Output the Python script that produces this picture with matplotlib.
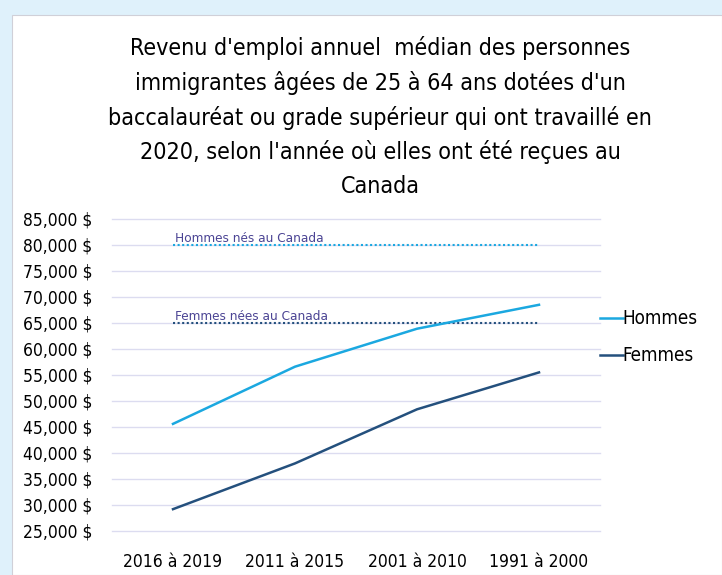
import matplotlib
matplotlib.use("Agg")
import matplotlib.pyplot as plt
from matplotlib.patches import Rectangle
from matplotlib.ticker import FuncFormatter

plt.rcParams['font.family'] = ['DejaVu Sans']
plt.rcParams['font.stretch'] = 'condensed'

categories = ["2016 à 2019", "2011 à 2015", "2001 à 2010", "1991 à 2000"]
hommes = [45600, 56600, 63900, 68500]
femmes = [29200, 38000, 48400, 55500]
ref_hommes = 80000
ref_femmes = 65000
title = ("Revenu d'emploi annuel  médian des personnes\n"
         "immigrantes âgées de 25 à 64 ans dotées d'un\n"
         "baccalauréat ou grade supérieur qui ont travaillé en\n"
         "2020, selon l'année où elles ont été reçues au\n"
         "Canada")
yticks = list(range(25000, 85001, 5000))

W, H = 722, 575
fig = plt.figure(figsize=(W / 100, H / 100), dpi=100)
fig.patch.set_facecolor("#dff1fb")
fig.patches.append(Rectangle((12 / W, 0), 1 - 12 / W, 1 - 15 / H, transform=fig.transFigure,
                             facecolor="white", edgecolor="#d0d0d8", linewidth=0.8, zorder=-5))

ax = fig.add_axes([112 / W, 1 - 531 / H, 488 / W, 312 / H])
ax.set_facecolor("none")
x = list(range(len(categories)))

c_h = "#1ba8e0"
c_f = "#24507d"
ax.plot(x, hommes, color=c_h, lw=1.8, label="Hommes", zorder=3)
ax.plot(x, femmes, color=c_f, lw=1.8, label="Femmes", zorder=3)

ax.plot([x[0], x[-1]], [ref_hommes, ref_hommes], color="#1ba8e0", lw=1.5, ls=(0, (1, 1.2)), zorder=2)
ax.plot([x[0], x[-1]], [ref_femmes, ref_femmes], color="#24507d", lw=1.5, ls=(0, (1, 1.2)), zorder=2)
ax.annotate("Hommes nés au Canada", (x[0], ref_hommes), xytext=(1.5, 2), textcoords="offset points",
            fontsize=9.7, color="#4b4494", va="baseline", ha="left")
ax.annotate("Femmes nées au Canada", (x[0], ref_femmes), xytext=(1.5, 2), textcoords="offset points",
            fontsize=9.7, color="#4b4494", va="baseline", ha="left")

ax.set_xlim(-0.5, len(categories) - 0.5)
ax.set_ylim(25000, 85000)
ax.set_yticks(yticks)
ax.yaxis.set_major_formatter(FuncFormatter(lambda v, p: f"{int(v):,} $"))
ax.set_xticks(x)
ax.set_xticklabels(categories)
ax.grid(axis="y", color="#dcdcf0", lw=1.0)
for gl in ax.get_ygridlines():
    gl.set_clip_on(False)
ax.set_axisbelow(True)
for s in ax.spines.values():
    s.set_visible(False)
ax.tick_params(axis="both", length=0, labelsize=12.5, colors="black")
ax.tick_params(axis="y", pad=14)
ax.tick_params(axis="x", pad=16)

ax.legend(loc="upper left", bbox_to_anchor=(1.0, 0.71), frameon=False, fontsize=13.5,
          handlelength=1.2, handletextpad=0.0, labelspacing=0.95, borderaxespad=0, borderpad=0)

fig.text(380 / W, 1 - 36 / H, title, ha="center", va="top", fontsize=16.7, linespacing=1.57)

fig.savefig("out.png", dpi=100, facecolor=fig.get_facecolor())
